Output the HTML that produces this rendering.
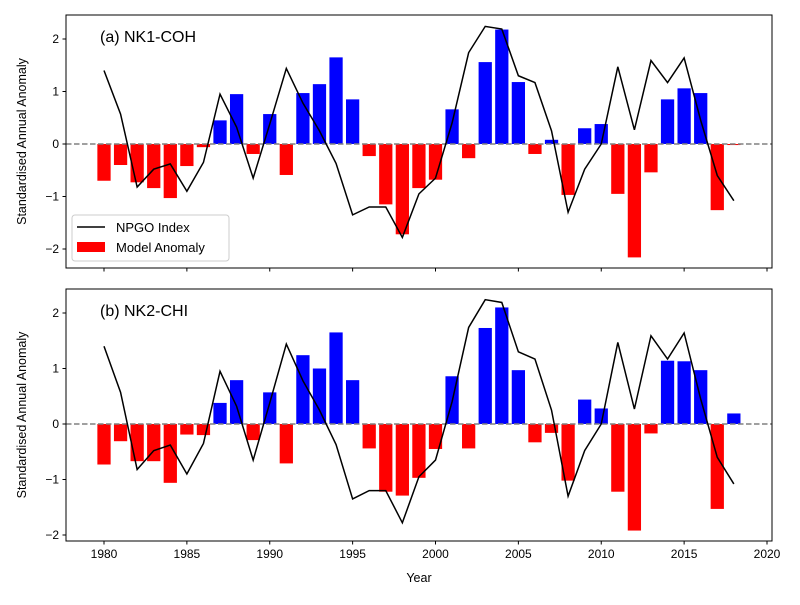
<!DOCTYPE html>
<html><head><meta charset="utf-8"><style>
body{margin:0;background:#fff}
svg text{font-family:"Liberation Sans","DejaVu Sans",sans-serif}
</style></head><body>
<svg id="chart" width="800" height="600" xmlns="http://www.w3.org/2000/svg"></svg>
<script>
const years=[];for(let y=1980;y<=2018;y++)years.push(y);
const npgo=[1.4,0.57,-0.82,-0.48,-0.38,-0.9,-0.35,0.95,0.32,-0.65,0.38,1.44,0.78,0.25,-0.37,-1.35,-1.2,-1.2,-1.78,-0.95,-0.65,0.4,1.74,2.24,2.19,1.3,1.17,0.25,-1.3,-0.48,0.0,1.47,0.27,1.59,1.17,1.64,0.45,-0.6,-1.08];
const anomA=[-0.7,-0.4,-0.73,-0.84,-1.03,-0.42,-0.06,0.45,0.95,-0.19,0.57,-0.59,0.97,1.14,1.65,0.85,-0.23,-1.15,-1.72,-0.84,-0.68,0.66,-0.27,1.56,2.18,1.18,-0.19,0.08,-0.97,0.3,0.38,-0.95,-2.16,-0.54,0.85,1.06,0.97,-1.26,-0.02];
const anomB=[-0.73,-0.31,-0.67,-0.67,-1.06,-0.19,-0.2,0.38,0.79,-0.29,0.57,-0.71,1.24,1.0,1.65,0.79,-0.44,-1.22,-1.29,-0.97,-0.45,0.86,-0.44,1.73,2.1,0.97,-0.33,-0.16,-1.02,0.44,0.28,-1.22,-1.92,-0.17,1.14,1.13,0.97,-1.53,0.19];
const xTicks=[1980,1985,1990,1995,2000,2005,2010,2015,2020];
const yTicks=[-2,-1,0,1,2];
const NS="http://www.w3.org/2000/svg";
const svg=document.getElementById('chart');
function mk(t,a,p){const e=document.createElementNS(NS,t);for(const k in a)e.setAttribute(k,a[k]);(p||svg).appendChild(e);return e;}
const xs=y=>104+(y-1980)*(663/40);
const L=66,R=772;
const panels=[
 {top:15,bot:268,y0:144,k:52.5,data:anomA,title:'(a) NK1-COH',name:'panel-a',legend:true},
 {top:289,bot:541,y0:424,k:55.5,data:anomB,title:'(b) NK2-CHI',name:'panel-b',legend:false}];
panels.forEach((p,pi)=>{
 const g=mk('g',{});
 
 
 const ys=v=>p.y0-v*p.k;
 years.forEach((yr,i)=>{
  const v=p.data[i];
  const r=mk('rect',{x:xs(yr)-6.63,y:Math.min(ys(v),ys(0)),width:13.26,height:Math.abs(ys(v)-ys(0)),fill:v>=0?'#0000ff':'#ff0000'},g);
  
  
 });
 const z=mk('line',{x1:L,x2:R,y1:ys(0),y2:ys(0),stroke:'#808080','stroke-width':1.5,'stroke-dasharray':'5.5,2.5'},g);
 
 
 const pl=mk('polyline',{points:years.map((yr,i)=>xs(yr)+','+ys(npgo[i])).join(' '),fill:'none',stroke:'#000','stroke-width':1.5},g);
 
 
 const fr=mk('rect',{x:L,y:p.top,width:R-L,height:p.bot-p.top,fill:'none',stroke:'#000','stroke-width':1},g);
 
 
 yTicks.forEach(t=>{
  mk('line',{x1:L-3.5,x2:L,y1:ys(t),y2:ys(t),stroke:'#000'},g);
  const tx=mk('text',{x:L-7,y:ys(t)+4,'text-anchor':'end','font-size':12},g);
  tx.textContent=t<0?'\u2212'+(-t):t;
  
  
 });
 xTicks.forEach(t=>{
  mk('line',{x1:xs(t),x2:xs(t),y1:p.bot,y2:p.bot+3.5,stroke:'#000'},g);
  if(pi===1){const tx=mk('text',{x:xs(t),y:p.bot+17,'text-anchor':'middle','font-size':12},g);
  tx.textContent=t;
  
  }
 });
 const ti=mk('text',{x:100,y:p.top+27,'font-size':16},g);
 ti.textContent=p.title;
 
 
 const yl=mk('text',{transform:`translate(26,${(p.top+p.bot)/2}) rotate(-90)`,'text-anchor':'middle','font-size':12.5},g);
 yl.textContent='Standardised Annual Anomaly';
 
 
 if(p.legend){
  const lg=mk('g',{});
  
  
  mk('rect',{x:72,y:215,width:157,height:46,rx:3,fill:'#fff','fill-opacity':0.8,stroke:'#ccc'},lg);
  mk('line',{x1:77,x2:105,y1:227,y2:227,stroke:'#000','stroke-width':1.5},lg);
  const t1=mk('text',{x:116,y:232,'font-size':13},lg);t1.textContent='NPGO Index';
  
  
  mk('rect',{x:77,y:242,width:28,height:10,fill:'#ff0000'},lg);
  const t2=mk('text',{x:116,y:252,'font-size':13},lg);t2.textContent='Model Anomaly';
  
  
 }
});
const xl=mk('text',{x:419,y:582,'text-anchor':'middle','font-size':12.5});
xl.textContent='Year';


</script>
</body></html>
